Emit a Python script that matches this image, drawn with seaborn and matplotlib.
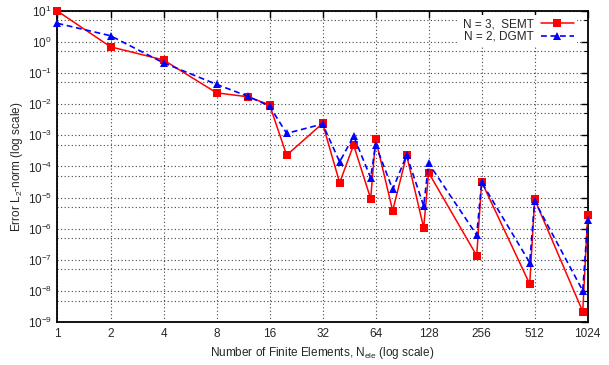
import numpy as np
import pandas as pd
import matplotlib
matplotlib.use("Agg")
import matplotlib.pyplot as plt
import matplotlib.ticker as mticker
import seaborn as sns

# Number of finite elements and L2-norm errors for each scheme
n_elements = [1, 2, 4, 8, 12, 16, 20, 32, 40, 48, 60, 64, 80, 96, 120, 128,
              240, 256, 480, 512, 960, 1024]
err_semt = [9.6, 0.69, 0.26, 0.023, 0.0172, 0.0095, 2.3e-4, 2.4e-3, 3.0e-5,
            4.9e-4, 9.2e-6, 7.6e-4, 3.8e-6, 2.3e-4, 1.08e-6, 6.3e-5,
            1.37e-7, 3.2e-5, 1.69e-8, 8.8e-6, 2.2e-9, 2.8e-6]
err_dgmt = [3.9, 1.56, 0.21, 0.043, 0.018, 0.0086, 1.15e-3, 2.3e-3, 1.4e-4,
            9.4e-4, 4.3e-5, 5.0e-4, 1.84e-5, 2.3e-4, 5.4e-6, 1.26e-4,
            6.3e-7, 3.1e-5, 8.2e-8, 7.8e-6, 1.03e-8, 1.9e-6]
label_semt = "N = 3,  SEMT"
label_dgmt = "N = 2, DGMT"
x_ticks = [1, 2, 4, 8, 16, 32, 64, 128, 256, 512, 1024]

sns.set_style("white")
plt.rcParams["font.family"] = ["Liberation Sans", "DejaVu Sans"]
plt.rcParams["mathtext.fontset"] = "custom"
plt.rcParams["mathtext.rm"] = "Liberation Sans"
plt.rcParams["mathtext.it"] = "Liberation Sans:italic"
plt.rcParams["mathtext.default"] = "regular"

fig = plt.figure(figsize=(6.09, 3.65), dpi=100)
ax = fig.add_axes([0.0944, 0.117, 0.8706, 0.854])

df_semt = pd.DataFrame({"n": n_elements, "err": err_semt})
df_dgmt = pd.DataFrame({"n": n_elements, "err": err_dgmt})

sns.lineplot(data=df_semt, x="n", y="err", ax=ax, color="#ff0000",
             linewidth=1.1, marker="s", markersize=5.6, markeredgewidth=0,
             estimator=None, sort=False, label=label_semt, zorder=3,
             clip_on=False)
sns.lineplot(data=df_dgmt, x="n", y="err", ax=ax, color="#0000ff",
             linewidth=1.2, linestyle=(0, (3.5, 2.2)), marker="^",
             markersize=6.0, markeredgewidth=0, estimator=None, sort=False,
             label=label_dgmt, zorder=4, clip_on=False)

ax.set_xscale("log", base=2)
ax.set_yscale("log")
ax.set_xlim(1, 1024)
ax.set_ylim(1e-9, 10)

ax.xaxis.set_major_locator(mticker.FixedLocator(x_ticks))
ax.xaxis.set_major_formatter(mticker.FixedFormatter([str(t) for t in x_ticks]))
ax.xaxis.set_minor_locator(mticker.NullLocator())
ax.yaxis.set_major_locator(mticker.LogLocator(base=10, numticks=20))
ax.yaxis.set_minor_locator(mticker.LogLocator(base=10, subs=(5,), numticks=20))
ax.yaxis.set_minor_formatter(mticker.NullFormatter())

grid_kw = dict(color="#444444", linestyle=(0, (1, 2.2)), linewidth=0.8)
ax.grid(True, which="major", axis="both", **grid_kw)
ax.grid(True, which="minor", axis="y", **grid_kw)
ax.set_axisbelow(True)

ax.tick_params(which="both", direction="in", top=True, right=True,
               labelsize=8.5, color="black", pad=4)
ax.tick_params(which="major", length=5, width=1)
ax.tick_params(which="minor", length=3, width=0.8)
for s in ax.spines.values():
    s.set_linewidth(1.3)
    s.set_color("black")

ax.set_xlabel(r"Number of Finite Elements, N$_{ele}$ (log scale)",
              fontsize=8.5, labelpad=4)
ax.set_ylabel(r"Error L$_2$-norm (log scale)", fontsize=8.5, labelpad=2)

leg = ax.legend(loc="upper right", bbox_to_anchor=(0.985, 0.995),
                markerfirst=False, frameon=True, fontsize=8.5,
                handlelength=2.8, labelspacing=0.05, borderpad=0.3,
                handletextpad=0.6, borderaxespad=0.2)
leg.get_frame().set_facecolor("white")
leg.get_frame().set_edgecolor("none")
leg.get_frame().set_alpha(1)

fig.savefig("out.png", dpi=100)
